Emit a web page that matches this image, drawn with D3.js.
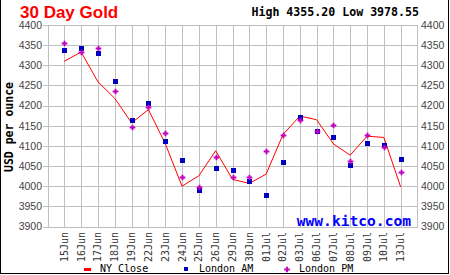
<!doctype html>
<html>
<head>
<meta charset="utf-8">
<script src="https://cdn.jsdelivr.net/npm/d3@7"></script>
<style>
  body { margin: 0; background: #fff; }
  svg { display: block; }
</style>
</head>
<body>
<svg width="450" height="275"></svg>
<script>
var dates = ["15Jun","16Jun","17Jun","18Jun","19Jun","22Jun","23Jun","24Jun","25Jun","26Jun","29Jun",
             "30Jun","01Jul","02Jul","03Jul","06Jul","07Jul","08Jul","09Jul","10Jul","13Jul"];
var nyClose  = [4310,4333,4259,4218,4157,4190,4106,4000,4026,4088,4017,4007,4030,4128,4174,4165,4105,4077,4124,4121,3998];
var londonAM = [4337,4342,4330,4262,4164,4206,4111,4066,3991,4046,4041,4014,3978.55,4061,4171,4136,4123,4053,4106,4101,4068];
var londonPM = [4355.2,4334,4342,4235,4148,4196,4133,4022,3999,4072,4024,4024,4088,4128,4164,4138,4153,4063,4128,4097,4036];
var yTicks = [3900,3950,4000,4050,4100,4150,4200,4250,4300,4350,4400];

var svg = d3.select("svg");
var mono = "'DejaVu Sans Mono', monospace";
var sans = "'Liberation Sans', Arial, sans-serif";

var x = d3.scaleLinear().domain([-1, dates.length]).range([47.5, 417.5]);
var y = d3.scaleLinear().domain([3900, 4400]).range([226.5, 25]);

// frame: left, bottom, right only
svg.append("path").attr("d", "M0.5,0V273.5H448.5V0")
   .attr("fill", "none").attr("stroke", "black").attr("shape-rendering", "crispEdges");

// grid
var grid = svg.append("g").attr("shape-rendering", "crispEdges").attr("stroke", "#c0c0c0");
grid.selectAll("line.h").data(yTicks).enter().append("line")
    .attr("x1", 43).attr("x2", x.range()[1])
    .attr("y1", function(d) { return Math.round(y(d)) + 0.5; })
    .attr("y2", function(d) { return Math.round(y(d)) + 0.5; });
grid.selectAll("line.v").data(dates).enter().append("line")
    .attr("x1", function(d, i) { return Math.round(x(i)) + 0.5; })
    .attr("x2", function(d, i) { return Math.round(x(i)) + 0.5; })
    .attr("y1", y(4400)).attr("y2", y(3900));
grid.append("rect").attr("x", 48.5).attr("y", Math.round(y(4400)) + 0.5)
    .attr("width", 369).attr("height", Math.round(y(3900)) - Math.round(y(4400)))
    .attr("fill", "none");

// y tick labels, both sides
svg.selectAll("text.yl").data(yTicks).enter().append("text")
   .attr("x", 42).attr("y", function(d) { return y(d); }).attr("dy", "0.36em")
   .attr("text-anchor", "end").style("font", "10.5px " + sans).attr("fill", "#444")
   .text(function(d) { return d; });
svg.selectAll("text.yr").data(yTicks).enter().append("text")
   .attr("x", 421).attr("y", function(d) { return y(d); }).attr("dy", "0.36em")
   .style("font", "10.5px " + sans).attr("fill", "#444")
   .text(function(d) { return d; });

// x labels
svg.selectAll("text.xl").data(dates).enter().append("text")
   .attr("transform", function(d, i) { return "translate(" + (x(i) + 3.5) + ",232) rotate(-90)"; })
   .attr("text-anchor", "end").style("font", "10px " + mono).attr("fill", "#333")
   .text(function(d) { return d; });

// titles
svg.append("text").attr("x", 20).attr("y", 17.5).attr("fill", "#ff0000")
   .style("font", "bold 17px " + sans).text("30 Day Gold");
svg.append("text").attr("x", 419).attr("y", 15.5).attr("text-anchor", "end")
   .style("font", "bold 11.6px " + mono).text("High 4355.20 Low 3978.55");
svg.append("text").attr("transform", "translate(13,127) rotate(-90)").attr("text-anchor", "middle")
   .style("font", "bold 11.5px " + mono).text("USD per ounce");
svg.append("text").attr("x", 411).attr("y", 225.5).attr("text-anchor", "end").attr("fill", "#0000ff")
   .style("font", "bold 14.6px " + mono).text("www.kitco.com");

// NY close line
var line = d3.line().x(function(d, i) { return x(i); }).y(function(d) { return y(d); });
svg.append("path").attr("d", line(nyClose)).attr("fill", "none")
   .attr("stroke", "#ff0000").attr("stroke-width", 1);

// London AM squares
svg.selectAll("rect.am").data(londonAM).enter().append("rect")
   .attr("x", function(d, i) { return Math.round(x(i)) - 2; })
   .attr("y", function(d) { return Math.round(y(d)) - 2; })
   .attr("width", 5).attr("height", 5).attr("fill", "#0000c0");

// London PM crosses
var cross = d3.symbol().type(d3.symbolCross).size(18);
svg.selectAll("path.pm").data(londonPM).enter().append("path")
   .attr("transform", function(d, i) { return "translate(" + (Math.round(x(i)) + 0.5) + "," + (Math.round(y(d)) + 0.5) + ")"; })
   .attr("d", cross).attr("fill", "#c000c0");

// legend
var lg = svg.append("g").style("font", "10px " + mono);
lg.append("rect").attr("x", 84).attr("y", 268).attr("width", 7).attr("height", 3).attr("fill", "#ff0000");
lg.append("text").attr("x", 100).attr("y", 272).text("NY Close");
lg.append("rect").attr("x", 184).attr("y", 267).attr("width", 4).attr("height", 4).attr("fill", "#0000c0");
lg.append("text").attr("x", 199).attr("y", 272).text("London AM");
lg.append("path").attr("transform", "translate(287,269.5)").attr("d", cross).attr("fill", "#c000c0");
lg.append("text").attr("x", 299).attr("y", 272).text("London PM");
</script>
</body>
</html>
